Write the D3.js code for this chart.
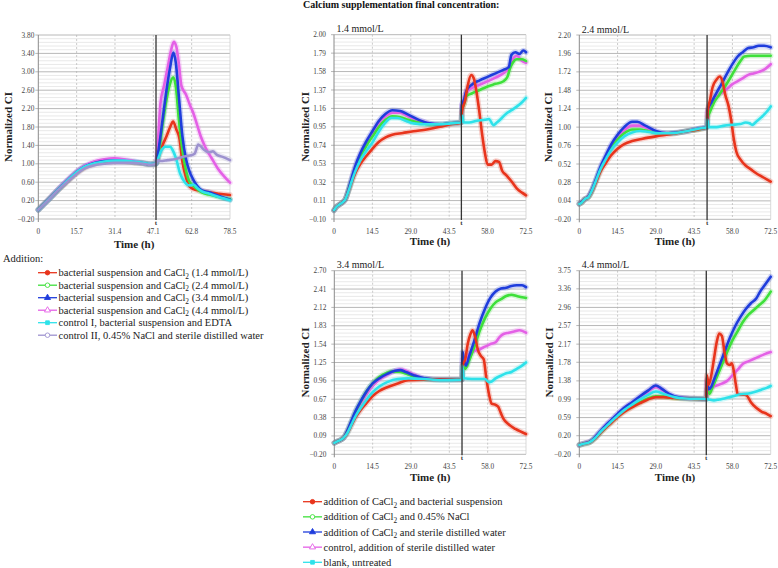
<!DOCTYPE html>
<html><head><meta charset="utf-8">
<script src="https://cdn.jsdelivr.net/npm/d3@7"></script>
<style>
body{margin:0;background:#fff}
svg{display:block}
text{font-family:"Liberation Serif","Times New Roman",serif}
</style>
</head><body>
<svg id="c" width="778" height="568" font-family="Liberation Serif, Times New Roman, serif"></svg>
<script>
// ---------------- DATA ----------------
const chartTitle = "Calcium supplementation final concentration:";
const panelTitles = ["", "1.4 mmol/L", "2.4 mmol/L", "3.4 mmol/L", "4.4 mmol/L"];
const xTickLabelsA = ["0", "15.7", "31.4", "47.1", "62.8", "78.5"];
const xTickLabelsB = ["0", "14.5", "29.0", "43.5", "58.0", "72.5"];
const yTicksA  = [-0.20, 0.20, 0.60, 1.00, 1.40, 1.80, 2.20, 2.60, 3.00, 3.40, 3.80];
const yTicks14 = [-0.10, 0.11, 0.32, 0.53, 0.74, 0.95, 1.16, 1.37, 1.58, 1.79, 2.00];
const yTicks24 = [-0.20, 0.04, 0.28, 0.52, 0.76, 1.00, 1.24, 1.48, 1.72, 1.96, 2.20];
const yTicks34 = [-0.20, 0.09, 0.38, 0.67, 0.96, 1.25, 1.54, 1.83, 2.12, 2.41, 2.70];
const yTicks44 = [-0.20, 0.20, 0.59, 0.99, 1.38, 1.78, 2.17, 2.57, 2.96, 3.36, 3.75];
const additionTimes = [48.2, 48.1, 48.4, 48.3, 48.1];

const legendA = [
  "bacterial suspension and CaCl2 (1.4 mmol/L)",
  "bacterial suspension and CaCl2 (2.4 mmol/L)",
  "bacterial suspension and CaCl2 (3.4 mmol/L)",
  "bacterial suspension and CaCl2 (4.4 mmol/L)",
  "control I, bacterial suspension and EDTA",
  "control II, 0.45% NaCl and sterile distilled water"
];
const legendB = [
  "addition of CaCl2 and bacterial suspension",
  "addition of CaCl2 and 0.45% NaCl",
  "addition of CaCl2 and sterile distilled water",
  "control, addition of sterile distilled water",
  "blank, untreated"
];

// Left panel: [time h, normalized CI]
const left14 = [[0,0.0],[4,0.21],[8,0.42],[12,0.62],[15.7,0.8],[19,0.92],[23,1.0],[27,1.04],[31,1.05],[35,1.05],[39,1.03],[43,1.01],[46,0.99],[48.2,1.0],
  [49.5,1.2],[51,1.42],[52.5,1.6],[54,1.8],[55.2,1.92],[56.5,1.75],[57.8,1.55],[59,1.05],[60.5,0.7],[62,0.5],[63.5,0.45],[66,0.42],[70,0.38],[74,0.35],[78.5,0.32]];
const left24 = [[0,0.0],[4,0.21],[8,0.43],[12,0.63],[15.7,0.81],[19,0.93],[23,1.01],[27,1.05],[31,1.06],[35,1.05],[39,1.03],[43,1.01],[46,0.99],[48.2,1.0],
  [49.5,1.3],[51,1.9],[52.5,2.4],[54,2.75],[55.3,2.88],[56.5,2.6],[57.5,2.0],[59,1.3],[60.5,0.85],[62,0.6],[63.5,0.52],[65,0.45],[67,0.38],[70,0.33],[74,0.28],[78.5,0.23]];
const left34 = [[0,0.0],[4,0.21],[8,0.43],[12,0.64],[15.7,0.82],[19,0.94],[23,1.02],[27,1.06],[31,1.07],[35,1.06],[39,1.04],[43,1.01],[46,0.99],[48.2,1.0],
  [49.5,1.4],[51,2.0],[52.5,2.6],[54,3.1],[55.3,3.42],[56.3,3.2],[57.5,2.5],[59,1.6],[60.5,1.1],[61.8,0.85],[63.5,0.65],[65,0.52],[67,0.42],[70,0.38],[73,0.32],[76,0.26],[78.5,0.22]];
const left44 = [[0,0.0],[4,0.22],[8,0.45],[12,0.66],[15.7,0.84],[19,0.96],[23,1.05],[27,1.1],[31,1.12],[35,1.1],[39,1.06],[43,1.02],[46,1.0],[48.2,1.0],
  [49,1.5],[50,2.3],[51.5,2.7],[53,3.1],[54.5,3.5],[55.5,3.65],[56.5,3.55],[57.5,3.2],[58.6,2.7],[60.5,2.5],[62.3,2.25],[63.5,2.1],[65,1.85],[66.5,1.6],[68.5,1.35],[71,1.12],[73.5,0.9],[76,0.73],[78.5,0.59]];
const leftEDTA = [[0,0.0],[4,0.21],[8,0.43],[12,0.64],[15.7,0.82],[19,0.94],[23,1.01],[27,1.05],[31,1.07],[35,1.07],[39,1.05],[43,1.02],[46,1.0],[48.2,1.0],
  [49,1.1],[50.5,1.3],[52,1.37],[54,1.37],[55,1.3],[56.5,1.1],[58,0.8],[60,0.6],[62,0.53],[63.5,0.55],[65,0.48],[67,0.4],[70,0.35],[74,0.28],[78.5,0.21]];
const leftNaCl = [[0,0.0],[4,0.2],[8,0.42],[12,0.61],[15.7,0.78],[19,0.9],[23,0.97],[27,1.0],[31,1.02],[35,1.02],[39,1.02],[43,1.0],[46,0.98],[48.2,1.0],
  [49,1.08],[50,1.06],[53,1.08],[56,1.1],[59,1.15],[62,1.18],[64,1.22],[65.5,1.42],[66.5,1.38],[68,1.3],[70,1.25],[71.5,1.27],[73,1.2],[75.5,1.15],[78.5,1.08]];

// 1.4 mmol/L panel
const c14Bact = [[0,0.0],[1,0.04],[2.3,0.07],[4.2,0.12],[5.5,0.22],[6.7,0.32],[8,0.42],[9.8,0.52],[12.3,0.62],[14.5,0.7],[17,0.78],[19.5,0.83],[22,0.86],[26,0.88],[30,0.9],[35,0.92],[40,0.95],[44,0.98],[48.1,1.0],
  [48.3,1.12],[49.5,1.25],[50.5,1.42],[51.8,1.54],[52.8,1.5],[53.8,1.35],[54.8,1.14],[56,0.85],[57,0.65],[58,0.52],[59.5,0.52],[61,0.56],[62.3,0.55],[63.5,0.45],[65,0.4],[67,0.33],[69,0.25],[71,0.2],[72.5,0.17]];
const c14NaCl = [[0,0.0],[1,0.04],[2.3,0.07],[4.2,0.12],[5.5,0.23],[6.7,0.35],[8,0.47],[9.8,0.6],[12.3,0.74],[14.5,0.84],[17,0.95],[19.5,1.03],[22,1.07],[25,1.06],[28,1.03],[32,1.0],[36,0.98],[40,0.98],[44,0.99],[48.1,1.0],
  [48.3,1.15],[49,1.2],[50,1.3],[52,1.33],[55,1.37],[58,1.41],[61,1.44],[64,1.47],[65.5,1.52],[66.5,1.62],[67.5,1.68],[69,1.72],[71,1.72],[72.5,1.7]];
const c14Water = [[0,0.0],[1,0.04],[2.3,0.07],[4.2,0.12],[5.5,0.24],[6.7,0.37],[8,0.5],[9.8,0.64],[12.3,0.79],[14.5,0.9],[17,1.02],[19.5,1.1],[22,1.14],[25,1.13],[28,1.09],[32,1.03],[36,0.99],[40,0.98],[44,0.99],[48.1,1.0],
  [48.3,1.2],[49,1.25],[50,1.36],[52,1.43],[55,1.48],[58,1.52],[61,1.56],[64,1.6],[66,1.63],[67,1.77],[68.5,1.8],[70,1.78],[71.5,1.82],[72.5,1.8]];
const c14Ctrl = [[0,0.0],[1,0.04],[2.3,0.07],[4.2,0.12],[5.5,0.23],[6.7,0.36],[8,0.49],[9.8,0.62],[12.3,0.77],[14.5,0.88],[17,1.0],[19.5,1.07],[22,1.11],[25,1.11],[28,1.07],[32,1.02],[36,0.99],[40,0.98],[44,0.99],[48.1,1.0],
  [48.3,1.2],[49,1.25],[50,1.35],[52,1.39],[55,1.43],[58,1.47],[61,1.51],[64,1.56],[66,1.62],[67.5,1.72],[69,1.76],[71,1.7],[72.5,1.68]];
const c14Blank = [[0,0.0],[1,0.04],[2.3,0.07],[4.2,0.12],[5.5,0.22],[6.7,0.33],[8,0.44],[9.8,0.56],[12.3,0.68],[14.5,0.77],[17,0.9],[19.5,1.0],[21.5,1.05],[24,1.05],[27,1.02],[30,0.99],[35,0.98],[40,0.98],[44,0.99],[48.1,1.0],
  [48.3,1.08],[49,1.0],[51,1.0],[54,1.02],[57,1.03],[58.5,1.04],[60.2,0.97],[61.5,1.0],[63,1.04],[65,1.1],[67,1.14],[69,1.18],[71,1.23],[72.5,1.28]];

// 2.4 mmol/L panel
const c24Bact = [[0,0.0],[1,0.02],[2,0.06],[3.5,0.09],[5,0.18],[6.5,0.3],[8,0.42],[10,0.53],[12,0.63],[14.5,0.72],[17,0.78],[20,0.82],[24,0.85],[29,0.88],[35,0.91],[41,0.95],[45,0.97],[48.4,1.0],
  [48.6,1.2],[49.5,1.35],[50.5,1.52],[52,1.62],[53.2,1.66],[54.2,1.6],[55.3,1.42],[56.5,1.28],[57.5,1.1],[58.5,0.85],[59.5,0.68],[61,0.58],[63,0.5],[65,0.45],[67,0.4],[69,0.36],[71,0.32],[72.5,0.29]];
const c24NaCl = [[0,0.0],[1,0.02],[2,0.06],[3.5,0.09],[5,0.19],[6.5,0.32],[8,0.45],[10,0.59],[12,0.72],[14.5,0.84],[17,0.92],[20,0.97],[23,0.97],[26,0.95],[30,0.92],[35,0.92],[41,0.95],[45,0.97],[48.4,1.0],
  [48.6,1.12],[49.5,1.2],[51,1.32],[53,1.42],[55,1.52],[57,1.63],[59,1.75],[61,1.86],[62.5,1.92],[65,1.93],[68,1.93],[72.5,1.93]];
const c24Water = [[0,0.0],[1,0.03],[2,0.06],[3.5,0.1],[5,0.2],[6.5,0.34],[8,0.48],[10,0.63],[12,0.77],[14.5,0.9],[17,1.0],[20,1.07],[22,1.07],[25,1.02],[29,0.95],[33,0.92],[37,0.93],[41,0.95],[45,0.98],[48.4,1.0],
  [48.6,1.22],[50,1.32],[52,1.45],[54,1.57],[56,1.7],[58,1.82],[60,1.92],[62,1.98],[64,2.03],[66,2.04],[68,2.06],[70,2.06],[72.5,2.04]];
const c24Ctrl = [[0,0.0],[1,0.02],[2,0.06],[3.5,0.1],[5,0.2],[6.5,0.33],[8,0.47],[10,0.61],[12,0.75],[14.5,0.87],[17,0.96],[20,1.02],[23,1.02],[26,0.98],[30,0.93],[35,0.92],[41,0.95],[45,0.98],[48.4,1.0],
  [48.6,1.18],[50,1.32],[52,1.4],[54,1.45],[56,1.5],[58,1.56],[60,1.6],[62,1.64],[64,1.68],[66,1.7],[68,1.72],[70,1.75],[72.5,1.82]];
const c24Blank = [[0,0.0],[1,0.02],[2,0.06],[3.5,0.09],[5,0.19],[6.5,0.32],[8,0.45],[10,0.58],[12,0.7],[14.5,0.8],[17,0.88],[20,0.93],[23,0.95],[26,0.94],[30,0.92],[35,0.92],[41,0.95],[45,0.98],[48.4,1.0],
  [48.5,1.1],[49,1.0],[52,1.0],[55,1.02],[58,1.03],[61,1.04],[63,1.06],[64.5,1.05],[65.5,1.03],[67,1.07],[69,1.13],[71,1.2],[72.5,1.27]];

// 3.4 mmol/L panel
const c34Bact = [[0,-0.02],[1,0.0],[2.5,0.03],[3.5,0.06],[5,0.14],[6.5,0.26],[8,0.38],[10,0.5],[12,0.6],[14.5,0.72],[17,0.8],[20,0.86],[24,0.92],[28,0.97],[34,0.98],[48.3,0.98],
  [48.5,1.2],[49.5,1.3],[50.5,1.55],[51.5,1.7],[52.3,1.76],[53.3,1.65],[54.3,1.45],[55.5,1.35],[56.5,1.3],[57.5,1.0],[58.5,0.75],[59.5,0.6],[61,0.58],[62,0.55],[63,0.45],[64,0.36],[66,0.27],[68.5,0.2],[72.5,0.12]];
const c34NaCl = [[0,-0.02],[1,0.0],[2.5,0.03],[3.5,0.06],[5,0.17],[6.5,0.32],[8,0.47],[10,0.63],[12,0.78],[14.5,0.92],[17,1.02],[20,1.09],[22,1.11],[25,1.1],[28,1.06],[31,1.02],[35,0.99],[40,0.98],[48.3,0.98],
  [48.5,1.22],[49.5,1.15],[51,1.28],[53,1.5],[55,1.75],[57,1.95],[59,2.1],[61,2.2],[63,2.25],[65,2.3],[67,2.32],[69,2.3],[71,2.28],[72.5,2.27]];
const c34Water = [[0,-0.02],[1,0.0],[2.5,0.03],[3.5,0.06],[5,0.18],[6.5,0.33],[8,0.48],[10,0.64],[12,0.78],[14.5,0.92],[17,1.0],[20,1.07],[23,1.12],[25,1.13],[27,1.1],[30,1.05],[34,1.0],[40,0.98],[48.3,0.98],
  [48.5,1.42],[49,1.3],[49.8,1.2],[51,1.35],[53,1.6],[55,1.88],[57,2.1],[59,2.27],[61,2.37],[63,2.42],[65,2.43],[67,2.46],[69,2.47],[71,2.47],[72.5,2.44]];
const c34Ctrl = [[0,-0.02],[1,0.0],[2.5,0.03],[3.5,0.06],[5,0.17],[6.5,0.31],[8,0.45],[10,0.6],[12,0.74],[14.5,0.88],[17,0.98],[20,1.06],[23,1.12],[25,1.14],[27,1.12],[30,1.06],[34,1.0],[40,0.98],[48.3,0.98],
  [48.5,1.3],[49.5,1.25],[51,1.38],[53,1.43],[55,1.46],[57,1.5],[59,1.54],[61,1.57],[62.5,1.65],[64,1.7],[66,1.72],[68,1.74],[70,1.76],[72.5,1.72]];
const c34Blank = [[0,-0.02],[1,0.0],[2.5,0.03],[3.5,0.06],[5,0.14],[6.5,0.27],[8,0.4],[10,0.53],[12,0.65],[14.5,0.78],[17,0.87],[20,0.94],[24,0.99],[28,1.0],[34,0.99],[40,0.97],[48.3,0.98],
  [48.4,1.2],[49,1.0],[52,0.99],[55,0.99],[57,0.99],[58.5,0.94],[59.5,0.95],[61,1.0],[63,1.04],[65,1.08],[67,1.1],[69,1.15],[71,1.2],[72.5,1.25]];

// 4.4 mmol/L panel
const c44Bact = [[0,0.0],[2,0.03],[4,0.06],[6,0.14],[8,0.26],[10,0.37],[12,0.47],[14.5,0.6],[17,0.71],[20,0.81],[23,0.9],[26,0.98],[29,1.03],[32,1.03],[36,1.01],[40,1.0],[48.1,0.99],
  [48.3,1.5],[49,1.3],[50,1.5],[51,1.85],[52,2.2],[53,2.4],[54,2.35],[55,2.0],[56,1.75],[57,1.72],[57.8,1.76],[58.5,1.6],[59.3,1.3],[60,1.1],[61,1.08],[62.5,1.08],[63.5,1.06],[65,0.92],[67,0.8],[69,0.72],[71,0.67],[72.5,0.62]];
const c44NaCl = [[0,0.0],[2,0.03],[4,0.06],[6,0.15],[8,0.27],[10,0.38],[12,0.49],[14.5,0.62],[17,0.73],[20,0.83],[23,0.92],[26,1.0],[29,1.05],[32,1.04],[36,1.01],[40,1.0],[48.1,0.99],
  [48.3,1.2],[49.3,1.1],[50.5,1.25],[52,1.45],[54,1.72],[56,2.0],[58,2.25],[60,2.45],[62,2.65],[64,2.8],[66,2.9],[68,3.0],[70,3.1],[72.5,3.3]];
const c44Water = [[0,0.0],[2,0.04],[4,0.07],[6,0.17],[8,0.3],[10,0.42],[12,0.53],[14.5,0.67],[17,0.8],[20,0.92],[23,1.05],[26,1.17],[29,1.28],[31,1.22],[34,1.1],[38,1.02],[43,1.0],[48.1,0.99],
  [48.3,1.4],[49,1.2],[50,1.25],[51,1.4],[53,1.7],[55,2.0],[57,2.3],[59,2.55],[61,2.75],[63,2.92],[65,3.05],[67,3.15],[68.5,3.3],[70,3.42],[72.5,3.62]];
const c44Ctrl = [[0,0.0],[2,0.04],[4,0.07],[6,0.17],[8,0.3],[10,0.42],[12,0.53],[14.5,0.66],[17,0.79],[20,0.91],[23,1.03],[26,1.15],[29,1.25],[31,1.2],[34,1.09],[38,1.02],[43,1.0],[48.1,0.99],
  [48.3,1.2],[49.3,1.15],[50.5,1.25],[52,1.28],[54,1.32],[56,1.38],[58,1.5],[60,1.62],[62,1.75],[64,1.8],[66,1.85],[68,1.9],[70,1.95],[72.5,2.0]];
const c44Blank = [[0,0.0],[2,0.03],[4,0.06],[6,0.15],[8,0.28],[10,0.39],[12,0.5],[14.5,0.63],[17,0.75],[20,0.87],[23,0.98],[26,1.08],[29,1.15],[32,1.1],[36,1.03],[40,1.0],[48.1,0.99],
  [49,0.98],[51,0.96],[53,0.98],[55,1.0],[57,1.03],[59,1.06],[61,1.09],[63,1.1],[65,1.12],[67,1.15],[69,1.19],[71,1.23],[72.5,1.27]];

// ---------------- STYLE ----------------
const COL = {red:"#e8341c", green:"#3ee03a", blue:"#1f3ddc", magenta:"#e460e6", cyan:"#2ee2ea", lav:"#9d92cf"};
const MARK = {red:["circle",true], green:["circle",false], blue:["triangle",true], magenta:["triangle",false], cyan:["square",true], lav:["circle",false]};

const svg = d3.select("#c");

function drawPanel(cfg) {
  const g = svg.append("g");
  const yT = cfg.yTicks;
  const x = d3.scaleLinear().domain([0, +cfg.xLabels[cfg.xLabels.length-1]]).range([cfg.x0, cfg.x1]);
  const y = d3.scaleLinear().domain([yT[0], yT[yT.length-1]]).range([cfg.y1, cfg.y0]);
  const minor = [];
  for (let i = 0; i < yT.length-1; i++) for (let k = 1; k < 5; k++) minor.push(yT[i] + (yT[i+1]-yT[i])*k/5);
  g.selectAll(".mn").data(minor).join("line")
    .attr("x1", cfg.x0).attr("x2", cfg.x1).attr("y1", d => y(d)).attr("y2", d => y(d))
    .attr("stroke", "#e3e3e3").attr("stroke-width", 0.8);
  const xv = cfg.xLabels.map(Number);
  g.selectAll(".vg").data(xv.slice(1, -1)).join("line")
    .attr("x1", d => x(d)).attr("x2", d => x(d)).attr("y1", cfg.y0).attr("y2", cfg.y1)
    .attr("stroke", "#bdbdbd").attr("stroke-width", 0.8).attr("stroke-dasharray", "2,2");
  g.selectAll(".mj").data(yT).join("line")
    .attr("x1", cfg.x0 - 3).attr("x2", cfg.x1).attr("y1", d => y(d)).attr("y2", d => y(d))
    .attr("stroke", "#b0b0b0").attr("stroke-width", 0.9);
  g.append("line").attr("x1", cfg.x0).attr("x2", cfg.x0).attr("y1", cfg.y0).attr("y2", cfg.y1 + 3)
    .attr("stroke", "#8a8a8a").attr("stroke-width", 1);
  g.append("line").attr("x1", cfg.x1).attr("x2", cfg.x1).attr("y1", cfg.y0).attr("y2", cfg.y1)
    .attr("stroke", "#cfcfcf").attr("stroke-width", 0.8);
  g.selectAll(".yl").data(yT).join("text")
    .attr("x", cfg.x0 - cfg.labGap).attr("y", d => y(d)).attr("dy", "0.35em")
    .attr("text-anchor", "end").attr("font-size", 7.3).attr("fill", "#444")
    .text(d => d3.format(".2f")(d));
  g.selectAll(".xl").data(cfg.xLabels).join("text")
    .attr("x", d => x(+d)).attr("y", cfg.y1 + 14.5)
    .attr("text-anchor", "middle").attr("font-size", 7.3).attr("fill", "#444")
    .text(d => d);
  g.append("text").attr("x", (cfg.x0 + cfg.x1)/2).attr("y", cfg.y1 + cfg.tOff)
    .attr("text-anchor", "middle").attr("font-size", 11).attr("font-weight", "bold").attr("fill", "#222")
    .text("Time (h)");
  g.append("text").attr("transform", `translate(${cfg.yLabX},${(cfg.y0 + cfg.y1)/2}) rotate(-90)`)
    .attr("text-anchor", "middle").attr("dy", "0.35em").attr("font-size", 11).attr("font-weight", "bold").attr("fill", "#222")
    .text("Normalized CI");
  if (cfg.title) {
    g.append("text").attr("x", cfg.x0 + 2.5).attr("y", cfg.y0 - 2.5)
      .attr("font-size", 10).attr("fill", "#222").text(cfg.title);
  }
  const line = d3.line().x(d => x(d[0])).y(d => y(d[1])).curve(d3.curveMonotoneX);
  cfg.series.forEach(s => {
    g.append("path").attr("d", line(s.data)).attr("fill", "none")
      .attr("stroke", COL[s.c]).attr("stroke-width", 5.5).attr("stroke-opacity", 0.22)
      .attr("stroke-linejoin", "round").attr("stroke-linecap", "round");
  });
  cfg.series.forEach(s => {
    g.append("path").attr("d", line(s.data)).attr("fill", "none")
      .attr("stroke", COL[s.c]).attr("stroke-width", 2.6)
      .attr("stroke-linejoin", "round").attr("stroke-linecap", "round");
  });
  g.append("line").attr("x1", x(cfg.tAdd)).attr("x2", x(cfg.tAdd)).attr("y1", cfg.y0).attr("y2", cfg.y1 + 1)
    .attr("stroke", "#333").attr("stroke-width", 1.3);
  g.append("text").attr("x", x(cfg.tAdd)).attr("y", cfg.y1 + 6)
    .attr("text-anchor", "middle").attr("font-size", 7).attr("font-weight", "bold").attr("fill", "#333").text("t");
}

drawPanel({x0:38.3, x1:230, y0:35, y1:219, yTicks:yTicksA, xLabels:xTickLabelsA, tAdd:additionTimes[0],
  labGap:4, tOff:28.5, yLabX:8.5, title:panelTitles[0],
  series:[{data:left44,c:"magenta"},{data:left14,c:"red"},{data:left24,c:"green"},{data:left34,c:"blue"},{data:leftEDTA,c:"cyan"},{data:leftNaCl,c:"lav"}]});
drawPanel({x0:334, x1:526, y0:34.7, y1:219, yTicks:yTicks14, xLabels:xTickLabelsB, tAdd:additionTimes[1],
  labGap:8, tOff:25.5, yLabX:305, title:panelTitles[1],
  series:[{data:c14Ctrl,c:"magenta"},{data:c14NaCl,c:"green"},{data:c14Water,c:"blue"},{data:c14Bact,c:"red"},{data:c14Blank,c:"cyan"}]});
drawPanel({x0:579.3, x1:770.7, y0:35, y1:219.3, yTicks:yTicks24, xLabels:xTickLabelsB, tAdd:additionTimes[2],
  labGap:8.5, tOff:25.5, yLabX:548.5, title:panelTitles[2],
  series:[{data:c24Ctrl,c:"magenta"},{data:c24NaCl,c:"green"},{data:c24Water,c:"blue"},{data:c24Bact,c:"red"},{data:c24Blank,c:"cyan"}]});
drawPanel({x0:334.3, x1:526, y0:270.7, y1:454.3, yTicks:yTicks34, xLabels:xTickLabelsB, tAdd:additionTimes[3],
  labGap:8, tOff:27, yLabX:305, title:panelTitles[3],
  series:[{data:c34Ctrl,c:"magenta"},{data:c34NaCl,c:"green"},{data:c34Water,c:"blue"},{data:c34Bact,c:"red"},{data:c34Blank,c:"cyan"}]});
drawPanel({x0:579.3, x1:770.7, y0:270.7, y1:454.3, yTicks:yTicks44, xLabels:xTickLabelsB, tAdd:additionTimes[4],
  labGap:8.5, tOff:27, yLabX:549, title:panelTitles[4],
  series:[{data:c44Ctrl,c:"magenta"},{data:c44NaCl,c:"green"},{data:c44Water,c:"blue"},{data:c44Bact,c:"red"},{data:c44Blank,c:"cyan"}]});

svg.append("text").attr("x", 303).attr("y", 8).attr("font-size", 10).attr("font-weight", "bold")
  .attr("fill", "#111").text(chartTitle);

function legendText(sel, label, fs) {
  const parts = label.split("CaCl2");
  if (parts.length === 1) { sel.text(label); return; }
  sel.append("tspan").text(parts[0] + "CaCl");
  sel.append("tspan").attr("font-size", fs * 0.7).attr("dy", 2.5).text("2");
  sel.append("tspan").attr("dy", -2.5).text(parts[1]);
}
function drawLegend(labels, colors, lx0, lx1, tx, y0, step, fs) {
  const g = svg.append("g");
  labels.forEach((lab, i) => {
    const yy = y0 + i * step;
    const c = colors[i];
    g.append("line").attr("x1", lx0).attr("x2", lx1).attr("y1", yy).attr("y2", yy)
      .attr("stroke", COL[c]).attr("stroke-width", 1.3);
    const [shape, filled] = MARK[c];
    const sym = shape === "circle" ? d3.symbolCircle : shape === "triangle" ? d3.symbolTriangle : d3.symbolSquare;
    g.append("path").attr("d", d3.symbol().type(sym).size(shape === "square" ? 14 : 16)())
      .attr("transform", `translate(${(lx0 + lx1)/2},${yy})`)
      .attr("fill", filled ? COL[c] : "#fff").attr("stroke", COL[c]).attr("stroke-width", 0.9);
    const t = g.append("text").attr("x", tx).attr("y", yy + 3.5).attr("font-size", fs).attr("fill", "#222");
    legendText(t, lab, fs);
  });
}
svg.append("text").attr("x", 3).attr("y", 261.5).attr("font-size", 10.5).attr("fill", "#222").text("Addition:");
drawLegend(legendA, ["red","green","blue","magenta","cyan","lav"], 38, 57, 58.5, 272.7, 12.5, 10.5);
drawLegend(legendB, ["red","green","blue","magenta","cyan"], 303, 322, 323.5, 501.7, 15.15, 10.5);
</script>
</body></html>
